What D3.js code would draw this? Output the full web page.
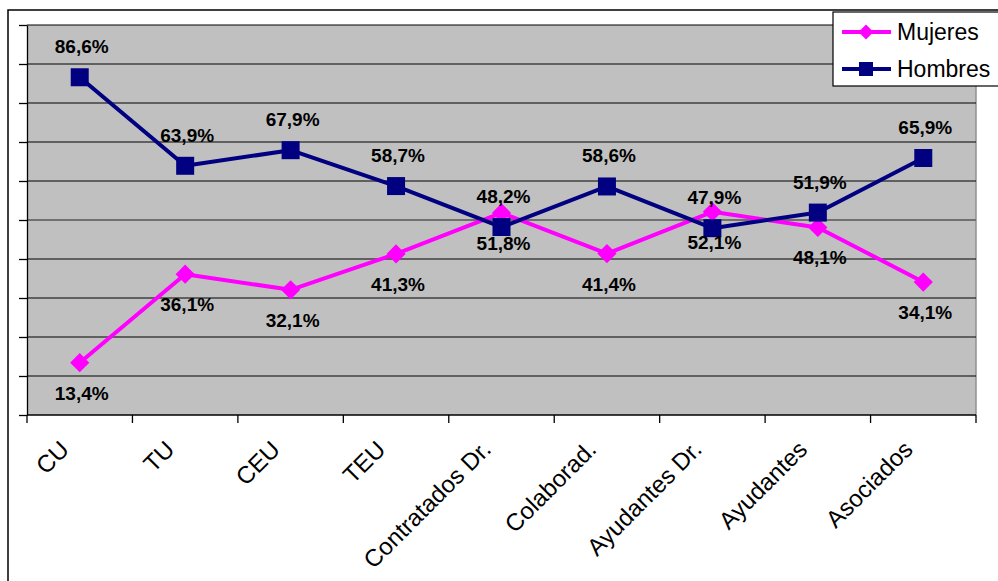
<!doctype html>
<html>
<head>
<meta charset="utf-8">
<title>Mujeres / Hombres por categoría</title>
<script src="https://d3js.org/d3.v7.min.js"></script>
<style>
body { margin: 0; background: #fff; }
svg { display: block; font-family: "Liberation Sans", Arial, sans-serif; }
</style>
</head>
<body>
<svg id="chart" width="998" height="581"></svg>
<script>
var categories = ["CU", "TU", "CEU", "TEU", "Contratados Dr.", "Colaborad.",
                  "Ayudantes Dr.", "Ayudantes", "Asociados"];
var mujeres = [13.4, 36.1, 32.1, 41.3, 51.8, 41.4, 52.1, 48.1, 34.1];
var hombres = [86.6, 63.9, 67.9, 58.7, 48.2, 58.6, 47.9, 51.9, 65.9];
var seriesNames = ["Mujeres", "Hombres"];
var yTicks = d3.range(0, 101, 10);

var width = 998, height = 581,
    plot = {left: 27, right: 976, top: 25, bottom: 415};

var svg = d3.select("#chart");

// outer chart frame
svg.append("rect")
    .attr("x", 8).attr("y", 10)
    .attr("width", 1100).attr("height", 700)
    .attr("fill", "white")
    .attr("stroke", "black")
    .attr("stroke-width", 1.5);

var x = d3.scaleBand()
    .domain(categories)
    .range([plot.left, plot.right]);

var y = d3.scaleLinear()
    .domain([0, 100])
    .range([plot.bottom, plot.top]);

var cx = d => x(d) + x.bandwidth() / 2;

svg.append("rect")
    .attr("x", plot.left).attr("y", plot.top)
    .attr("width", plot.right - plot.left)
    .attr("height", plot.bottom - plot.top)
    .attr("fill", "#c0c0c0");

// right edge of plot area
svg.append("line")
    .attr("x1", plot.right).attr("x2", plot.right)
    .attr("y1", plot.top).attr("y2", plot.bottom)
    .attr("stroke", "#909090").attr("stroke-width", 1.5);

// gridlines
svg.append("g")
    .selectAll("line")
    .data(yTicks.filter(t => t > 0))
    .join("line")
    .attr("x1", plot.left).attr("x2", plot.right)
    .attr("y1", d => y(d)).attr("y2", d => y(d))
    .attr("stroke", d => d == 50 ? "#707070" : "black")
    .attr("stroke-width", d => d == 50 ? 1.8 : 1);

// left axis (no labels)
svg.append("g")
    .attr("transform", `translate(${plot.left},0)`)
    .call(d3.axisLeft(y).tickValues(yTicks).tickSize(8).tickSizeOuter(0).tickFormat(""))
    .call(g => g.selectAll("line,path").attr("stroke", "black").attr("stroke-width", 1.3));

// bottom axis: ticks on band boundaries
var bounds = categories.map(c => x(c)).concat([plot.right]);
var xa = svg.append("g");
xa.append("line")
    .attr("x1", plot.left).attr("x2", plot.right)
    .attr("y1", plot.bottom).attr("y2", plot.bottom)
    .attr("stroke", "black").attr("stroke-width", 1.5);
xa.selectAll("line.tick")
    .data(bounds)
    .join("line")
    .attr("class", "tick")
    .attr("x1", d => d).attr("x2", d => d)
    .attr("y1", plot.bottom).attr("y2", plot.bottom + 8)
    .attr("stroke", "black").attr("stroke-width", 1.3);

xa.selectAll("text")
    .data(categories)
    .join("text")
    .attr("transform", d => `translate(${cx(d) - 21},${plot.bottom + 24}) rotate(-45)`)
    .attr("text-anchor", "end")
    .attr("dy", "0.7em")
    .attr("font-size", 24)
    .attr("fill", "black")
    .text(d => d);

var colors = {Mujeres: "#ff00ff", Hombres: "#000080"};
var sq = d3.symbol(d3.symbolSquare, 324)();
var dia = d3.symbol(d3.symbolSquare, 185)();

function drawSeries(vals, name, marker, rot) {
    var pts = categories.map((c, i) => [cx(c), y(vals[i]), vals[i]]);
    svg.append("path")
        .attr("d", d3.line()(pts.map(p => [p[0], p[1]])))
        .attr("fill", "none")
        .attr("stroke", colors[name])
        .attr("stroke-width", 4)
        .attr("stroke-linejoin", "round");
    svg.append("g").selectAll("path")
        .data(pts)
        .join("path")
        .attr("d", marker)
        .attr("transform", p => `translate(${p[0]},${p[1]}) rotate(${rot})`)
        .attr("fill", colors[name]);
    return pts;
}

var ptsM = drawSeries(mujeres, "Mujeres", dia, 45);
var ptsH = drawSeries(hombres, "Hombres", sq, 0);

// data labels: Hombres above, Mujeres below
var fmt = v => v.toFixed(1).replace(".", ",") + "%";
svg.append("g").selectAll("text")
    .data(ptsH)
    .join("text")
    .attr("x", p => p[0] + 2).attr("y", p => p[1] - 24)
    .attr("text-anchor", "middle")
    .attr("font-size", 19).attr("font-weight", "bold")
    .text(p => fmt(p[2]));
svg.append("g").selectAll("text")
    .data(ptsM)
    .join("text")
    .attr("x", p => p[0] + 2).attr("y", p => p[1] + 37)
    .attr("text-anchor", "middle")
    .attr("font-size", 19).attr("font-weight", "bold")
    .text(p => fmt(p[2]));

// legend
var lg = svg.append("g");
lg.append("rect")
    .attr("x", 833).attr("y", 12)
    .attr("width", 200).attr("height", 74)
    .attr("fill", "white")
    .attr("stroke", "black").attr("stroke-width", 1.2);
var lgMarkers = {Mujeres: d3.symbol(d3.symbolSquare, 110)(), Hombres: d3.symbol(d3.symbolSquare, 196)()};
seriesNames.forEach(function(name, i) {
    var ly = 32 + i * 37;
    lg.append("line")
        .attr("x1", 842).attr("x2", 891)
        .attr("y1", ly).attr("y2", ly)
        .attr("stroke", colors[name]).attr("stroke-width", 4);
    lg.append("path")
        .attr("d", lgMarkers[name])
        .attr("transform", `translate(866,${ly}) rotate(${name == "Mujeres" ? 45 : 0})`)
        .attr("fill", colors[name]);
    lg.append("text")
        .attr("x", 897).attr("y", ly + 8)
        .attr("font-size", 23)
        .text(name);
});
</script>
</body>
</html>
